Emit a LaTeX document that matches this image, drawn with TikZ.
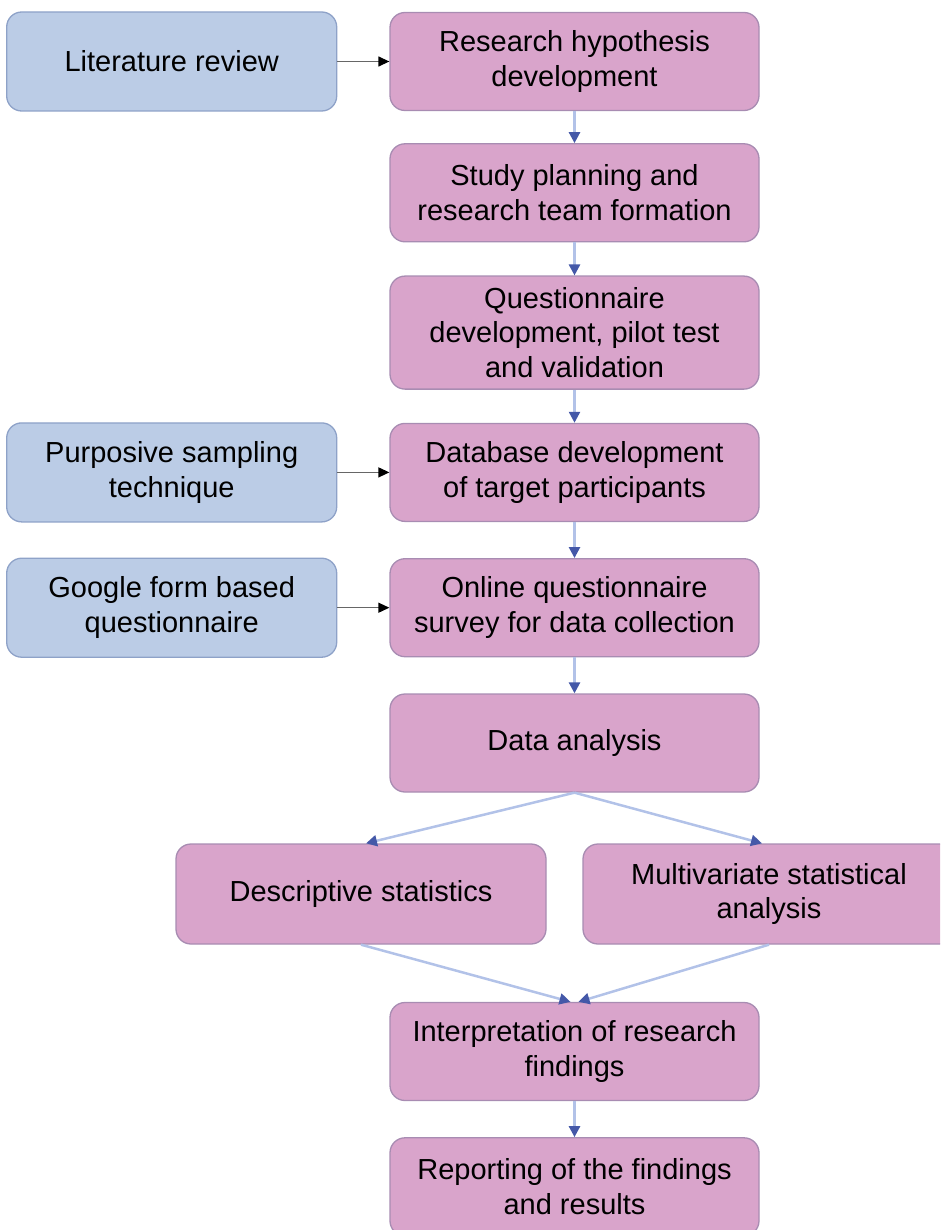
\documentclass[tikz,border=0pt]{standalone}
\usepackage{fontspec}
\setmainfont{Liberation Sans}
\usetikzlibrary{arrows.meta,positioning}
\definecolor{boxpink}{RGB}{217,164,203}
\definecolor{pinkline}{RGB}{168,140,178}
\definecolor{boxblue}{RGB}{187,204,230}
\definecolor{blueline}{RGB}{142,162,200}
\definecolor{flowline}{RGB}{178,194,232}
\definecolor{flowtip}{RGB}{68,88,168}
\tikzset{
  basic/.style  = {draw, rounded corners=15pt, line width=1.3pt, align=center,
                   inner sep=0pt, font=\fontsize{29}{34.5}\selectfont},
  stage/.style  = {basic, fill=boxpink, draw=pinkline,
                   minimum width=369pt, minimum height=98pt},
  source/.style = {basic, fill=boxblue, draw=blueline,
                   minimum width=330pt, minimum height=99pt},
  flow/.style   = {draw=flowline, line width=2.5pt,
                   -{Triangle[length=11pt,width=11pt,color=flowtip]}},
  feed/.style   = {draw=black!60, line width=1.3pt,
                   -{Triangle[length=11pt,width=10pt,color=black]}}
}

\begin{document}
\begin{tikzpicture}[x=1pt,y=-1pt]
\path[use as bounding box] (0,0) rectangle (940,1230);
\clip (0,0) rectangle (940,1230);

% main chain
\node[stage] (hyp) at (574.5,61.5) {Research hypothesis\\development};
\node[stage, below=32pt of hyp] (plan) {Study planning and\\research team formation};
\node[stage, below=33pt of plan, minimum height=113pt] (quest) {Questionnaire\\development, pilot test\\and validation};
\node[stage, below=33pt of quest] (dbase) {Database development\\of target participants};
\node[stage, below=36pt of dbase] (online) {Online questionnaire\\survey for data collection};
\node[stage, below=36pt of online] (analysis) {Data analysis};

% the two kinds of analysis
\node[stage, minimum width=370pt, minimum height=100pt] (descr) at (361,894) {Descriptive statistics};
\node[stage, minimum width=372pt, minimum height=100pt] (multi) at (769,894) {Multivariate statistical\\analysis};

\node[stage] (interp) at (574.5,1051.5) {Interpretation of research\\findings};
\node[stage, below=36pt of interp] (report) {Reporting of the findings\\and results};

% inputs on the left
\node[source, left=52pt of hyp] (lit) {Literature review};
\node[source, left=52pt of dbase] (purp) {Purposive sampling\\technique};
\node[source, left=52pt of online] (gform) {Google form based\\questionnaire};

\foreach \a/\b in {hyp/plan, plan/quest, quest/dbase, dbase/online, online/analysis, interp/report}
  \draw[flow] (\a) -- (\b);
\foreach \a/\b in {lit/hyp, purp/dbase, gform/online}
  \draw[feed] (\a) -- (\b);

\draw[flow] (analysis.south) -- ([xshift=5pt]descr.north);
\draw[flow] (analysis.south) -- ([xshift=-7pt]multi.north);
\draw[flow] (descr.south) -- ([xshift=-4pt]interp.north);
\draw[flow] (multi.south) -- ([xshift=4pt]interp.north);
\end{tikzpicture}
\end{document}
